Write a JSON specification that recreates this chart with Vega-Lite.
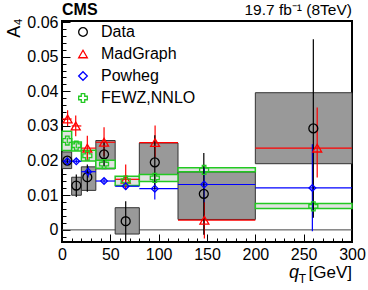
{
  "$schema": "https://vega.github.io/schema/vega-lite/v6.json",
  "width": 290,
  "height": 221,
  "autosize": {"type": "none"},
  "padding": {"left": 62, "top": 21, "right": 16, "bottom": 48},
  "background": "white",
  "config": {
    "view": {"stroke": "#000000", "strokeWidth": 2},
    "font": "Liberation Sans",
    "axis": {"labelFont": "Liberation Sans", "titleFont": "Liberation Sans", "labelColor": "#000000", "tickColor": "#000000", "titleColor": "#000000", "grid": false, "domain": false, "labelFlush": false, "labelOverlap": false},
    "legend": {"labelFont": "Liberation Sans", "labelFontSize": 16, "labelColor": "#000000", "symbolSize": 75, "symbolStrokeWidth": 1.3, "rowPadding": 6, "labelOffset": 10, "padding": 0}
  },
  "data": {"values": [
    {"s": "Data", "lo": 0, "hi": 10, "x": 5.5, "y": 0.0200, "elo": 0.0192, "ehi": 0.0208, "blo": 0.0177, "bhi": 0.0225},
    {"s": "Data", "lo": 10, "hi": 20, "x": 14.8, "y": 0.0128, "elo": 0.0095, "ehi": 0.0160, "blo": 0.0100, "bhi": 0.0152},
    {"s": "Data", "lo": 20, "hi": 35, "x": 26.2, "y": 0.0152, "elo": 0.0110, "ehi": 0.0189, "blo": 0.0114, "bhi": 0.0182},
    {"s": "Data", "lo": 35, "hi": 55, "x": 43.5, "y": 0.0218, "elo": 0.0184, "ehi": 0.0252, "blo": 0.0176, "bhi": 0.0258},
    {"s": "Data", "lo": 55, "hi": 80, "x": 65.9, "y": 0.0025, "elo": -0.0035, "ehi": 0.0083, "blo": -0.0012, "bhi": 0.0064},
    {"s": "Data", "lo": 80, "hi": 120, "x": 96, "y": 0.0195, "elo": 0.0117, "ehi": 0.0273, "blo": 0.0147, "bhi": 0.0251},
    {"s": "Data", "lo": 120, "hi": 200, "x": 146.7, "y": 0.0104, "elo": -0.0014, "ehi": 0.0222, "blo": 0.0030, "bhi": 0.0167},
    {"s": "Data", "lo": 200, "hi": 300, "x": 260, "y": 0.0293, "elo": 0.0035, "ehi": 0.0550, "blo": 0.0191, "bhi": 0.0396},
    {"s": "MadGraph", "lo": 0, "hi": 10, "x": 5.8, "y": 0.0320, "elo": 0.0300, "ehi": 0.0345},
    {"s": "MadGraph", "lo": 10, "hi": 20, "x": 14.2, "y": 0.0300, "elo": 0.0270, "ehi": 0.0330},
    {"s": "MadGraph", "lo": 20, "hi": 35, "x": 26.2, "y": 0.0236, "elo": 0.0200, "ehi": 0.0272},
    {"s": "MadGraph", "lo": 35, "hi": 55, "x": 43.5, "y": 0.0253, "elo": 0.0213, "ehi": 0.0296},
    {"s": "MadGraph", "lo": 55, "hi": 80, "x": 65.9, "y": 0.0146, "elo": 0.0116, "ehi": 0.0189},
    {"s": "MadGraph", "lo": 80, "hi": 120, "x": 96.3, "y": 0.0252, "elo": 0.0210, "ehi": 0.0301},
    {"s": "MadGraph", "lo": 120, "hi": 200, "x": 147.3, "y": 0.0028, "elo": -0.0025, "ehi": 0.0080},
    {"s": "MadGraph", "lo": 200, "hi": 300, "x": 264, "y": 0.0236, "elo": 0.0151, "ehi": 0.0353},
    {"s": "Powheg", "lo": 0, "hi": 10, "x": 5.5, "y": 0.0198, "elo": 0.0191, "ehi": 0.0205},
    {"s": "Powheg", "lo": 10, "hi": 20, "x": 14.8, "y": 0.0198, "elo": 0.0192, "ehi": 0.0204},
    {"s": "Powheg", "lo": 20, "hi": 35, "x": 27, "y": 0.0168, "elo": 0.0151, "ehi": 0.0184},
    {"s": "Powheg", "lo": 35, "hi": 55, "x": 43.5, "y": 0.0141, "elo": 0.0133, "ehi": 0.0149},
    {"s": "Powheg", "lo": 55, "hi": 80, "x": 65.9, "y": 0.0126, "elo": 0.0116, "ehi": 0.0136},
    {"s": "Powheg", "lo": 80, "hi": 120, "x": 96, "y": 0.0119, "elo": 0.0088, "ehi": 0.0142},
    {"s": "Powheg", "lo": 120, "hi": 200, "x": 147, "y": 0.0131, "elo": 0.0078, "ehi": 0.0179},
    {"s": "Powheg", "lo": 200, "hi": 300, "x": 259, "y": 0.0121, "elo": -0.0004, "ehi": 0.0247},
    {"s": "FEWZ,NNLO", "lo": 0, "hi": 10, "x": 5.5, "y": 0.0258, "elo": 0.0250, "ehi": 0.0266, "blo": 0.0229, "bhi": 0.0285},
    {"s": "FEWZ,NNLO", "lo": 10, "hi": 20, "x": 14.8, "y": 0.0243, "elo": 0.0236, "ehi": 0.0250, "blo": 0.0228, "bhi": 0.0254},
    {"s": "FEWZ,NNLO", "lo": 20, "hi": 35, "x": 26.2, "y": 0.0214, "elo": 0.0206, "ehi": 0.0222, "blo": 0.0199, "bhi": 0.0230},
    {"s": "FEWZ,NNLO", "lo": 35, "hi": 55, "x": 43.5, "y": 0.0190, "elo": 0.0182, "ehi": 0.0198, "blo": 0.0178, "bhi": 0.0201},
    {"s": "FEWZ,NNLO", "lo": 55, "hi": 80, "x": 65.9, "y": 0.0142, "elo": 0.0132, "ehi": 0.0152, "blo": 0.0128, "bhi": 0.0155},
    {"s": "FEWZ,NNLO", "lo": 80, "hi": 120, "x": 96, "y": 0.0150, "elo": 0.0142, "ehi": 0.0158, "blo": 0.0140, "bhi": 0.0160},
    {"s": "FEWZ,NNLO", "lo": 120, "hi": 200, "x": 147, "y": 0.0173, "elo": 0.0160, "ehi": 0.0188, "blo": 0.0168, "bhi": 0.0179},
    {"s": "FEWZ,NNLO", "lo": 200, "hi": 300, "x": 260, "y": 0.0068, "elo": 0.0055, "ehi": 0.0082, "blo": 0.0062, "bhi": 0.0076}
  ]},
  "resolve": {"axis": {"x": "independent", "y": "independent"}},
  "layer": [
    {
      "data": {"values": [{}]},
      "mark": {"type": "rule", "color": "#444444", "strokeWidth": 1},
      "encoding": {
        "x": {"datum": 0, "type": "quantitative", "scale": {"domain": [0, 300], "nice": false, "zero": false},
              "axis": {"orient": "bottom", "values": [10,20,30,40,60,70,80,90,110,120,130,140,160,170,180,190,210,220,230,240,260,270,280,290], "labels": false, "tickSize": -4, "title": null}},
        "x2": {"datum": 300},
        "y": {"datum": 0, "type": "quantitative", "scale": {"domain": [-0.0035, 0.0603], "nice": false, "zero": false},
              "axis": {"orient": "left", "values": [-0.002,0.002,0.004,0.006,0.008,0.012,0.014,0.016,0.018,0.022,0.024,0.026,0.028,0.032,0.034,0.036,0.038,0.042,0.044,0.046,0.048,0.052,0.054,0.056,0.058], "labels": false, "tickSize": -4, "title": null}}
      }
    },
    {
      "transform": [{"filter": "datum.s === 'Data'"}],
      "mark": {"type": "rect", "fill": "#999999", "stroke": "#333333", "strokeWidth": 1},
      "encoding": {
        "x": {"field": "lo", "type": "quantitative",
              "axis": {"orient": "bottom", "values": [0, 50, 100, 150, 200, 250, 300], "tickSize": -8, "labelPadding": 12, "labelFontSize": 16, "title": null}},
        "x2": {"field": "hi"},
        "y": {"field": "blo", "type": "quantitative",
              "axis": {"orient": "left", "values": [0, 0.01, 0.02, 0.03, 0.04, 0.05, 0.06], "labelExpr": "datum.value == 0 ? '0' : format(datum.value, '.2f')", "tickSize": -8, "labelPadding": 12, "labelFontSize": 16,
                       "title": "A₄", "titleFontSize": 18, "titleFontWeight": "normal", "titleAngle": 270, "titleAlign": "right", "titleBaseline": "alphabetic", "titleX": -43, "titleY": -3}},
        "y2": {"field": "bhi"}
      }
    },
    {
      "transform": [{"filter": "datum.s === 'FEWZ,NNLO'"}],
      "mark": {"type": "rect", "fill": "#e2e2e2", "stroke": "#22c922", "strokeWidth": 1.5},
      "encoding": {
        "x": {"field": "lo", "type": "quantitative", "axis": null},
        "x2": {"field": "hi"},
        "y": {"field": "blo", "type": "quantitative", "axis": null},
        "y2": {"field": "bhi"}
      }
    },
    {
      "transform": [{"filter": "datum.s === 'MadGraph'"}],
      "mark": {"type": "rule", "strokeWidth": 1.2, "color": "#ff0000"},
      "encoding": {
        "x": {"field": "lo", "type": "quantitative", "axis": null},
        "x2": {"field": "hi"},
        "y": {"field": "y", "type": "quantitative", "axis": null}
      }
    },
    {
      "transform": [{"filter": "datum.s === 'Powheg'"}],
      "mark": {"type": "rule", "strokeWidth": 1.2, "color": "#0000ff"},
      "encoding": {
        "x": {"field": "lo", "type": "quantitative", "axis": null},
        "x2": {"field": "hi"},
        "y": {"field": "y", "type": "quantitative", "axis": null}
      }
    },
    {
      "transform": [{"filter": "datum.s === 'FEWZ,NNLO'"}],
      "mark": {"type": "rule", "strokeWidth": 1.2, "color": "#22c922"},
      "encoding": {
        "x": {"field": "x", "type": "quantitative", "axis": null},
        "y": {"field": "elo", "type": "quantitative", "axis": null},
        "y2": {"field": "ehi"}
      }
    },
    {
      "transform": [{"filter": "datum.s === 'Powheg'"}],
      "mark": {"type": "rule", "strokeWidth": 1.2, "color": "#0000ff"},
      "encoding": {
        "x": {"field": "x", "type": "quantitative", "axis": null},
        "y": {"field": "elo", "type": "quantitative", "axis": null},
        "y2": {"field": "ehi"}
      }
    },
    {
      "transform": [{"filter": "datum.s === 'MadGraph'"}],
      "mark": {"type": "rule", "strokeWidth": 1.2, "color": "#ff0000", "clip": true},
      "encoding": {
        "x": {"field": "x", "type": "quantitative", "axis": null},
        "y": {"field": "elo", "type": "quantitative", "axis": null},
        "y2": {"field": "ehi"}
      }
    },
    {
      "transform": [{"filter": "datum.s === 'Data'"}],
      "mark": {"type": "rule", "strokeWidth": 1.2, "color": "#000000", "clip": true},
      "encoding": {
        "x": {"field": "x", "type": "quantitative", "axis": null},
        "y": {"field": "elo", "type": "quantitative", "axis": null},
        "y2": {"field": "ehi"}
      }
    },
    {
      "transform": [{"filter": "datum.s !== 'Powheg'"}],
      "mark": {"type": "point", "filled": false, "strokeWidth": 1.3, "opacity": 1, "size": 80},
      "encoding": {
        "x": {"field": "x", "type": "quantitative", "axis": null},
        "y": {"field": "y", "type": "quantitative", "axis": null},
        "color": {"field": "s", "type": "nominal",
                  "scale": {"domain": ["Data", "MadGraph", "Powheg", "FEWZ,NNLO"], "range": ["#000000", "#ff0000", "#0000ff", "#22c922"]},
                  "legend": {"orient": "none", "legendX": 13, "legendY": 3, "title": null}},
        "shape": {"field": "s", "type": "nominal",
                  "scale": {"domain": ["Data", "MadGraph", "Powheg", "FEWZ,NNLO"], "range": ["circle", "triangle-up", "diamond", "cross"]},
                  "legend": {"orient": "none", "legendX": 13, "legendY": 3, "title": null}}
      }
    },
    {
      "transform": [{"filter": "datum.s === 'Powheg'"}],
      "mark": {"type": "point", "filled": false, "strokeWidth": 1.3, "opacity": 1, "size": 45},
      "encoding": {
        "x": {"field": "x", "type": "quantitative", "axis": null},
        "y": {"field": "y", "type": "quantitative", "axis": null},
        "color": {"field": "s", "type": "nominal",
                  "scale": {"domain": ["Data", "MadGraph", "Powheg", "FEWZ,NNLO"], "range": ["#000000", "#ff0000", "#0000ff", "#22c922"]},
                  "legend": {"orient": "none", "legendX": 13, "legendY": 3, "title": null}},
        "shape": {"field": "s", "type": "nominal",
                  "scale": {"domain": ["Data", "MadGraph", "Powheg", "FEWZ,NNLO"], "range": ["circle", "triangle-up", "diamond", "cross"]},
                  "legend": {"orient": "none", "legendX": 13, "legendY": 3, "title": null}}
      }
    },
    {
      "data": {"values": [{}]},
      "mark": {"type": "text", "text": "CMS", "font": "Liberation Sans", "fontWeight": "bold", "fontSize": 16, "align": "left", "baseline": "alphabetic", "dy": -6},
      "encoding": {"x": {"datum": 0, "type": "quantitative", "axis": null}, "y": {"datum": 0.0603, "type": "quantitative", "axis": null}}
    },
    {
      "data": {"values": [{}]},
      "mark": {"type": "text", "text": "19.7 fb⁻¹ (8TeV)", "font": "Liberation Sans", "fontWeight": "normal", "fontSize": 15.5, "align": "right", "baseline": "alphabetic", "dy": -6},
      "encoding": {"x": {"datum": 300, "type": "quantitative", "axis": null}, "y": {"datum": 0.0603, "type": "quantitative", "axis": null}}
    },
    {
      "data": {"values": [{}]},
      "mark": {"type": "text", "text": "[GeV]", "font": "Liberation Sans", "fontWeight": "normal", "fontSize": 17, "align": "right", "baseline": "alphabetic", "dy": 36},
      "encoding": {"x": {"datum": 300, "type": "quantitative", "axis": null}, "y": {"datum": -0.0035, "type": "quantitative", "axis": null}}
    },
    {
      "data": {"values": [{}]},
      "mark": {"type": "text", "text": "T", "font": "Liberation Sans", "fontWeight": "normal", "fontSize": 12, "align": "right", "baseline": "alphabetic", "dx": -46, "dy": 41},
      "encoding": {"x": {"datum": 300, "type": "quantitative", "axis": null}, "y": {"datum": -0.0035, "type": "quantitative", "axis": null}}
    },
    {
      "data": {"values": [{}]},
      "mark": {"type": "text", "text": "q", "font": "Liberation Sans", "fontWeight": "normal", "fontStyle": "italic", "fontSize": 18, "align": "right", "baseline": "alphabetic", "dx": -53, "dy": 36},
      "encoding": {"x": {"datum": 300, "type": "quantitative", "axis": null}, "y": {"datum": -0.0035, "type": "quantitative", "axis": null}}
    }
  ]
}
